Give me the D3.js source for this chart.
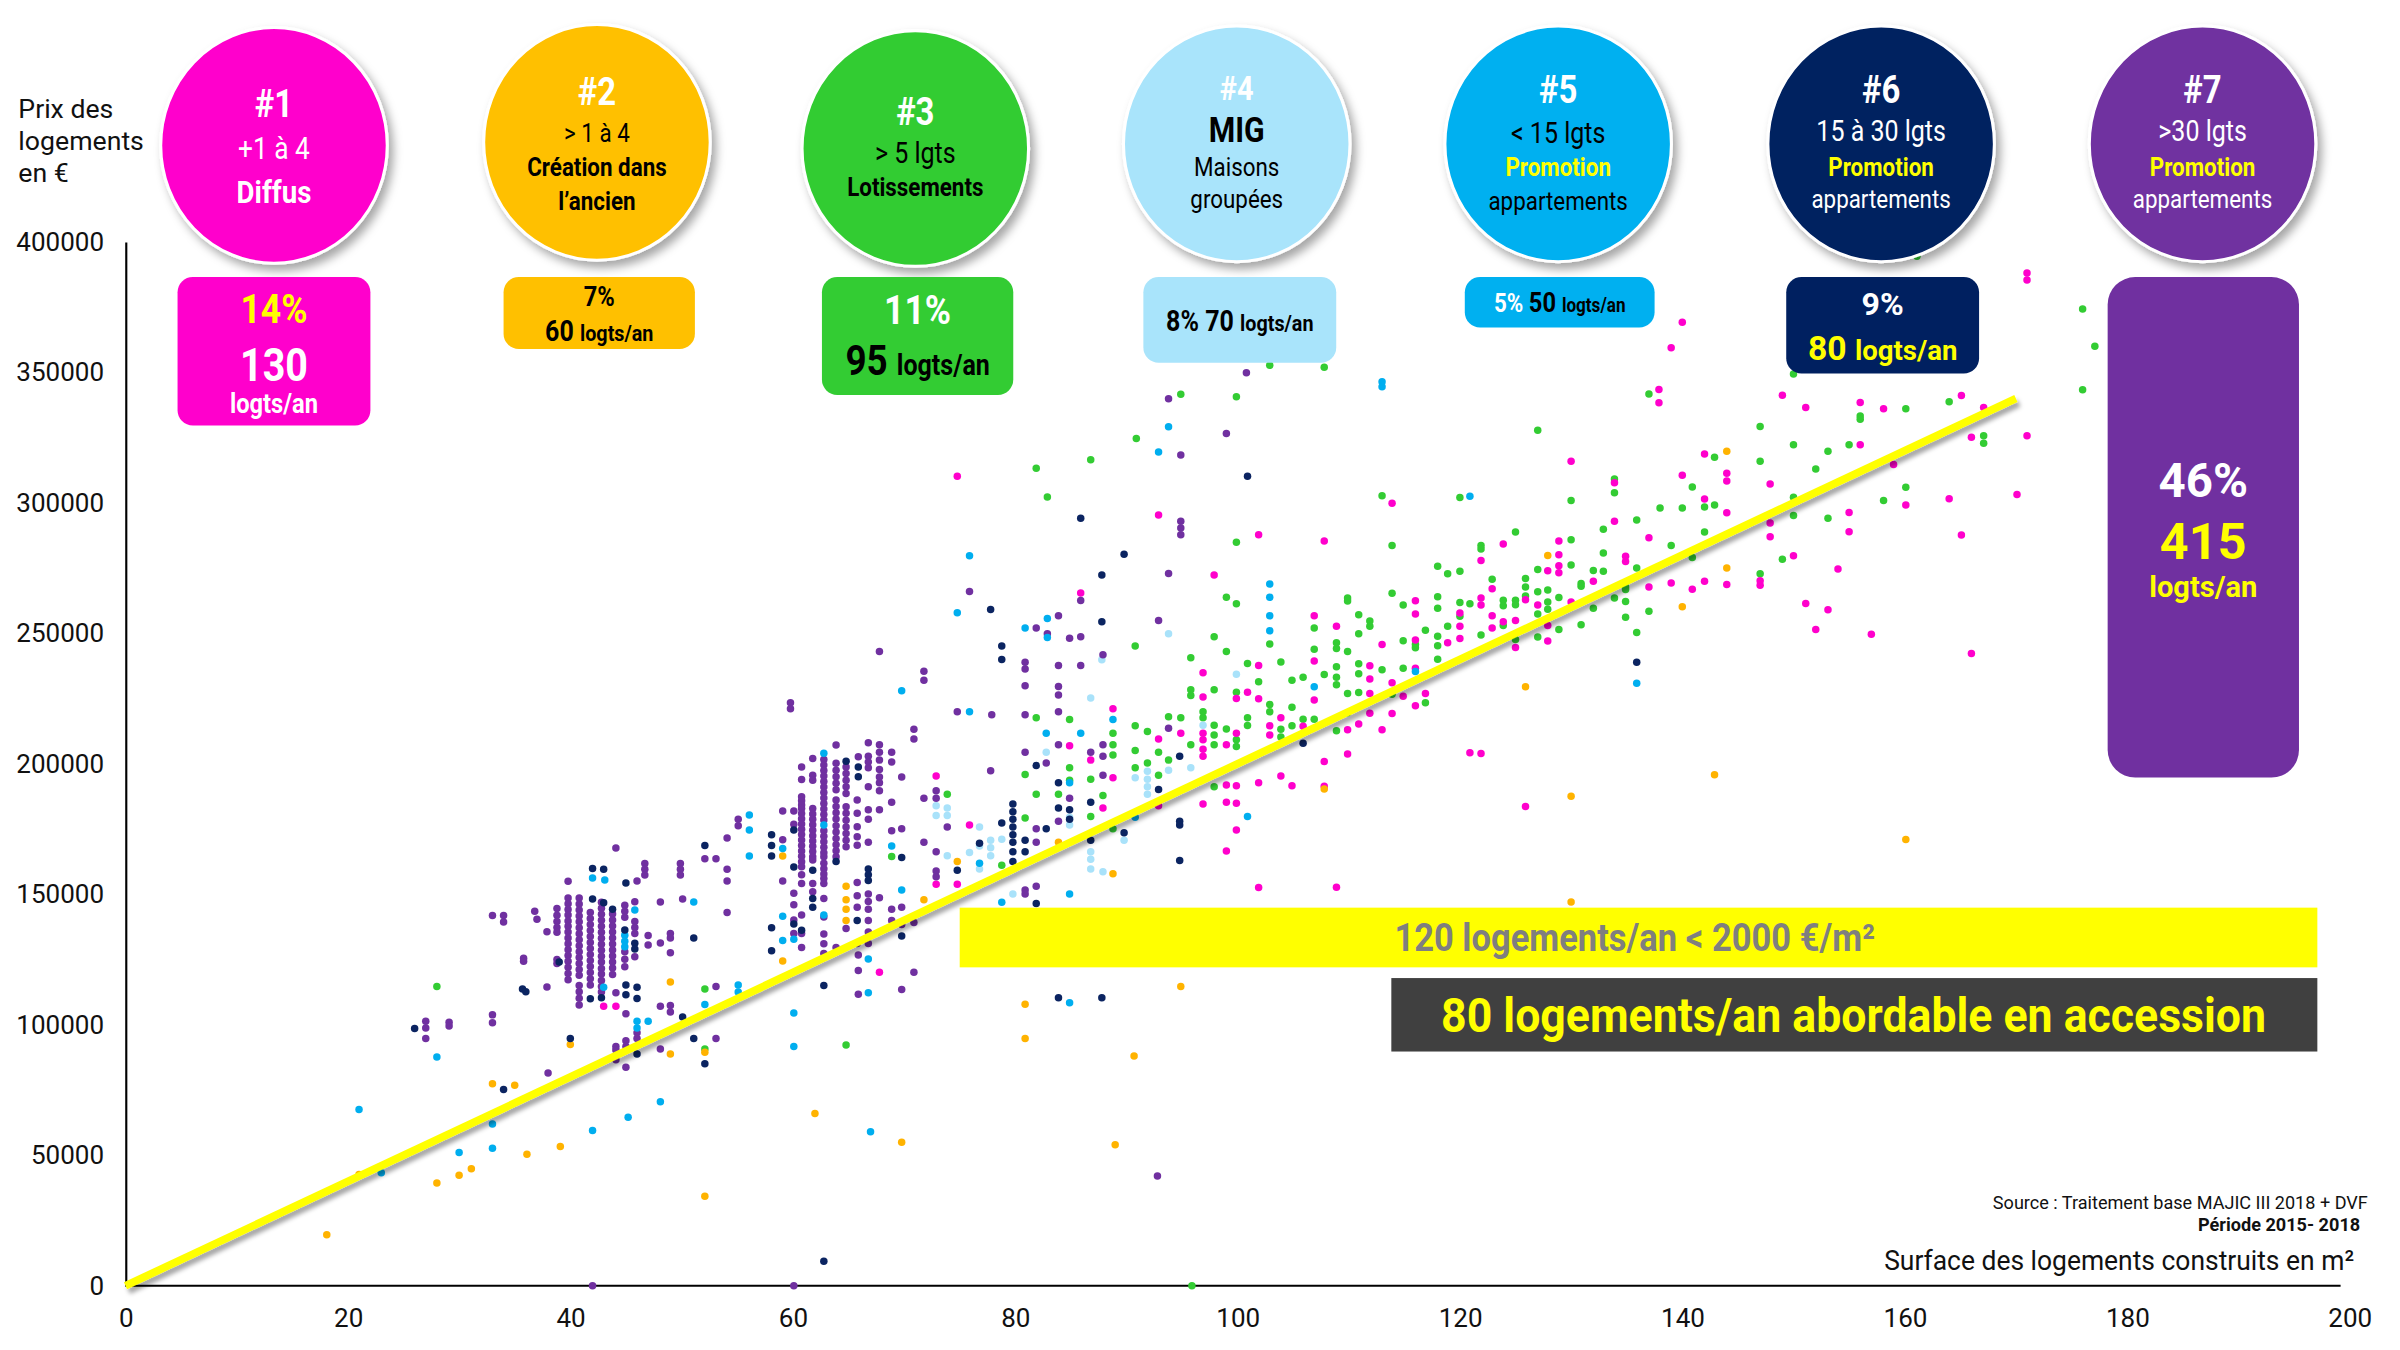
<!DOCTYPE html>
<meta charset="utf-8">

<head>
  <script src="https://d3js.org/d3.v7.min.js"></script>
  <style>
    html,
    body {
      margin: 0;
      padding: 0;
      background: #fff;
    }

    svg {
      display: block;
      font-family: Roboto, "Noto Sans", sans-serif;
    }
  </style>
</head>

<body>
  <svg id="chart"></svg>
</body>
<script>
  // axes
  const surfaceTicks = [0, 20, 40, 60, 80, 100, 120, 140, 160, 180, 200]
  const priceTicks = [0, 50000, 100000, 150000, 200000, 250000, 300000, 350000, 400000]

  // groups
  const groupIds = ['#1', '#2', '#3', '#4', '#5', '#6', '#7']
  const groupColors = ['#ff00cc', '#ffc000', '#33cc33', '#a9e4fb', '#00b0f0', '#002060', '#7030a0']
  const dotColors = ['#ff00cc', '#ffb300', '#33cc33', '#a9e2fa', '#00aeef', '#0b2461', '#7030a0']

  // points : [surface m², prix k€]
  const diffus = [
    [43, 107.1], [44.1, 107.1], [67.8, 120.1], [72.9, 195.3], [72.9, 153.8], [74.8, 153.8], [74.8, 310.2], [75.9, 176.5],
    [84.9, 206.9], [86.8, 201.4], [87.9, 183.1], [88.8, 194.6], [88.8, 221.1], [85.9, 265.4], [92.9, 295.3], [92.9, 209.5],
    [92.9, 183.9], [94.9, 211.7], [96.9, 211.7], [96.9, 209.2], [96.9, 205.6], [96.9, 202.9], [96.9, 234.9], [96.9, 225.6],
    [96.9, 184.6], [97.9, 272.3], [99, 207.3], [99, 191.9], [99, 185.3], [99, 166.6], [99.9, 225], [99.9, 211.7], [99.9, 191.6],
    [99.9, 184.9], [99.9, 174.6], [100.9, 227.4], [101.9, 287.8], [101.9, 237.7], [101.9, 224.9], [101.9, 192.7], [101.9, 152.6],
    [102.9, 214.6], [102.9, 211], [103.9, 217.6], [103.9, 195.3], [104.9, 191.6],
    [140, 369.2], [139, 359.4], [137.9, 343.4], [137.9, 338.3], [149, 341.2], [142, 318.7], [130, 315.9], [133.9, 307.7],
    [140, 310.6], [144, 311.3], [144, 308.4], [147.9, 307.2], [113.9, 299.8], [142, 301.5], [144, 296.2], [147.9, 292.3],
    [147.9, 287], [133.9, 292.9], [107.8, 285.4], [123.9, 284.2], [128.9, 285.4], [137, 286.6], [150, 279.7], [121.9, 277.9],
    [128.9, 280.1], [128.9, 275.9], [128.9, 273.2], [127.9, 274], [134.9, 279.5], [134.9, 277.5], [132, 269.9], [137, 267.7],
    [139, 269.3], [140.9, 266.9], [142, 269.9], [144, 268.7], [147, 270.1], [147, 268.4], [130, 262], [127, 260.8], [127.9, 253],
    [127.9, 247], [125.9, 262.9], [125, 254.9], [125, 244.6], [123.9, 254.4], [122.9, 267.1], [122.9, 256.7], [122.9, 252],
    [121.9, 263.5], [121.9, 260.8], [120, 257.8], [120, 252.7], [120, 248], [118.9, 246.4], [116.9, 226.9], [116, 262.5],
    [116, 257.4], [116, 247.4], [116, 236.6], [116, 222.2], [114.9, 225.9], [113.9, 231], [113.9, 219.3], [113, 245.7], [113, 213],
    [111.9, 237.6], [111.9, 232.5], [111.9, 226.9], [111.9, 219.4], [110.9, 215.2], [109.9, 213], [109.9, 203.7], [108.9, 252.7],
    [108.9, 152.7], [107.8, 200.9], [107.8, 191.4], [106.9, 256.7], [106.9, 239.4], [106.9, 224.4], [105.9, 214.4], [125.9, 183.6],
    [120.9, 204.2], [121.9, 203.9],
    [171, 388.1], [171, 385.4], [151.1, 336.5], [156, 338.4], [158.1, 336], [165.1, 341.1], [167.1, 336.5], [166, 325.1],
    [171, 325.7], [156, 322.2], [159, 314.7], [160.1, 299.2], [164, 301.6], [170.1, 303.2], [155, 296.3], [155, 288.9],
    [165.1, 287.7], [154, 274.6], [151.1, 261.4], [153.1, 259], [152, 251.5], [157, 249.6], [166, 242.3]
  ]

  const ancien = [
    [18.1, 19.5], [21, 42.6], [28, 39.4], [30, 42.3], [31.1, 44.8], [33, 77.4], [35, 76.8], [36.1, 50.4], [39.1, 53.3],
    [40, 92.4], [49, 116.4], [49, 88.8], [52.1, 34.3], [52.1, 89.5], [59.1, 164.7], [59.1, 124.4], [62, 66], [64.8, 153.1],
    [64.8, 147.9], [64.8, 144.3], [64.8, 139.9], [69.8, 55], [71.8, 147.9], [74.8, 162.6], [80.9, 107.9], [80.9, 94.7],
    [83.9, 169.9], [88.8, 157.9], [89, 54], [90.7, 88], [94.9, 114.7], [107.8, 190.3], [125.9, 229.5], [127.9, 279.8],
    [130, 187.6], [130, 147], [140, 260.2], [142.9, 195.8], [144, 275], [144, 319.8], [160.1, 171]
  ]

  const lotissements = [
    [28, 114.7], [52.1, 113.7], [52.1, 90.7], [64.8, 92.2], [68.9, 164.5], [73.9, 188.3], [78.8, 161.1], [80.9, 195.9], [80.9, 179.2],
    [81.9, 217.6], [81.9, 188.3], [81.9, 313.2], [82.9, 302.2], [83.9, 188.3], [84.9, 217], [84.9, 198.5], [84.9, 193.7], [86.8, 316.5],
    [86.8, 194.1], [86.8, 179.8], [87.9, 187.8], [88.8, 211.7], [88.8, 207.3], [88.8, 203.4], [88.8, 175.1], [90.8, 245.1], [90.8, 214.6],
    [90.8, 205.1], [90.8, 198.5], [90.9, 324.6], [91.9, 212.4], [91.9, 200.3], [92.9, 204.4], [92.9, 195.6], [93.8, 218], [93.8, 201.4],
    [94.9, 341.6], [94.9, 217.6], [95.8, 240.6], [95.8, 228.4], [95.8, 226.2], [95.8, 207.3], [95.9, 0], [96.9, 219.9], [96.9, 217.6],
    [97.9, 248.7], [97.9, 228.4], [97.9, 214.8], [97.9, 211], [97.9, 207.3], [97.9, 191.2], [99, 263.8], [99, 243], [99, 213.3],
    [99.9, 340.6], [99.9, 284.9], [99.9, 261.3], [99.9, 227.4], [99.9, 209.2], [99.9, 206.6], [100.9, 238.4], [100.9, 217.6],
    [100.9, 214.7], [101.9, 231.4], [102.9, 352.7], [102.9, 245.9], [102.9, 222.7], [102.9, 219.9], [103.9, 239], [103.9, 213.2],
    [103.9, 210.3], [104.9, 232], [104.9, 221.7], [104.9, 214.6],
    [107.8, 351.9], [137, 341.7], [127, 327.8], [147, 329.2], [150, 322.2], [147, 315.9], [142.9, 317.5], [133.9, 309.1], [140.9, 306.1],
    [133.9, 303.9], [113, 302.7], [120, 302], [130, 300.9], [138, 298], [140, 298], [142, 298.4], [142.9, 299.2], [150, 302.1],
    [150, 295.1], [135.9, 293.4], [132.9, 289.9], [125, 288.8], [121.9, 283.6], [121.9, 282.3], [113.9, 283.6], [130, 285.8],
    [139, 283.6], [142, 288.8], [140.9, 279], [149, 278.4], [118, 275.7], [118.9, 272.8], [120, 273.8], [127, 274.4], [130, 276.2],
    [132, 274.1], [132.9, 273.8], [132.9, 280.8], [135.9, 275], [130.9, 269.1], [130.9, 268], [133.9, 263.5], [134.9, 267.7],
    [134.9, 266.8], [134.9, 262.2], [147, 272.8], [137, 258.4], [134.9, 256.1], [135.9, 250.3], [132, 259.6], [130.9, 253.3],
    [128.9, 263.7], [127.9, 266.6], [127.9, 262], [127.9, 259.2], [127, 265.9], [127, 257.4], [127, 248.6], [128.9, 251.5],
    [125.9, 271], [125.9, 267.7], [125.9, 264.3], [125, 262.7], [125, 260.9], [125, 247.6], [123.9, 262.7], [123.9, 260.6],
    [123.9, 253], [122.9, 270.7], [121.9, 249.3], [120.9, 261.3], [120, 261.8], [120, 256.5], [118.9, 252.7], [118, 264],
    [118, 259.6], [118, 248.9], [118, 245.2], [118, 240.1], [116.9, 251.2], [116.9, 223.4], [116, 245.7], [116, 244.5],
    [114.9, 260.8], [114.9, 247.1], [114.9, 236.6], [113.9, 265.3], [113.9, 226.6], [113, 236], [111.9, 254.7], [111.9, 252.7],
    [110.9, 257.1], [110.9, 249.8], [110.9, 238.3], [110.9, 234.5], [110.9, 227.3], [109.9, 263.5], [109.9, 262.4], [109.9, 243],
    [109.9, 226.9], [109.9, 219.6], [108.9, 246.4], [108.9, 244.2], [108.9, 237.2], [108.9, 233.2], [108.9, 230.3], [108.9, 212.7],
    [107.8, 234.2], [106.9, 252], [106.9, 243.9], [106.9, 217.1], [105.9, 233.2], [105.9, 217.1], [150, 349.4],
    [161.1, 394.5], [176, 374.3], [177.1, 360], [176, 343.3], [156, 333.3], [156, 332], [160.1, 336], [164, 338.7], [167.1, 325.7],
    [167.1, 322.8], [153.1, 319.8], [155, 322.2], [152, 313], [160.1, 306], [158.1, 300.9], [153.1, 294.1]
  ]

  const mig = [
    [72.9, 183.9], [72.9, 180.2], [73.9, 183.1], [73.9, 180.2], [73.9, 164.8], [75.9, 166], [76.8, 175.8], [76.8, 168.5],
    [76.8, 159.7], [77.8, 170.7], [77.8, 167.8], [77.8, 164.8], [78.8, 171.1], [79.8, 150.1], [82.8, 204.4], [84.9, 179.5],
    [84.9, 176.5], [86.8, 225.2], [86.8, 166.3], [86.8, 163.4], [86.8, 159.7], [87.8, 239.9], [87.9, 158.6], [89.8, 170.7],
    [90.8, 194.6], [91.9, 197.1], [91.9, 194.1], [91.9, 191.2], [91.9, 188.3], [93.8, 249.8], [93.8, 197.5], [95.8, 198.5],
    [96.9, 214.8], [99.9, 234.3]
  ]

  const promo15 = [
    [21, 67.5], [23, 43.3], [28, 87.6], [30, 51], [33, 52.7], [33, 62], [42, 156.2], [42, 59.5], [43.1, 155.5], [43, 114.4],
    [44.9, 134.3], [44.9, 132], [44.9, 129.9], [45.8, 144], [45.2, 64.6], [46, 101.3], [46, 98.8], [47, 101.3], [48.1, 70.5],
    [51.1, 147], [52.1, 107.8], [55.1, 115.2], [55.1, 112.5], [56.1, 180.4], [56.1, 174.6], [56.1, 164.7], [59.1, 167.5],
    [59.1, 141.6], [59.1, 132.3], [60.1, 132.8], [60.1, 104.5], [60.1, 91.7], [62.8, 204], [62.8, 176.5], [62.8, 142.1],
    [66.8, 112.3], [66.8, 125.2], [67, 59], [68.9, 168.5], [69.8, 151.6], [69.8, 228], [74.8, 257.9], [75.9, 219.9],
    [75.9, 279.7], [76.8, 161.9], [78.8, 146.9], [80.9, 252], [82.8, 211.7], [82.9, 248.4], [82.9, 255.7], [84.9, 192.7],
    [84.9, 150.1], [84.9, 108.4], [85.9, 211.7], [88.8, 217], [90.8, 179.5], [92.9, 319.5], [93.8, 329.1], [100.9, 179.8],
    [102.9, 268.9], [102.9, 263.8], [102.9, 256.7], [102.9, 251], [106.9, 229.5], [113, 346.4], [113, 344.5], [116, 235.4],
    [120.9, 302.5], [135.9, 230.9]
  ]

  const promo30 = [
    [26, 98.6], [34, 75.2], [35.7, 113.7], [36, 112.6], [39, 124], [40, 94.7], [42, 159.9], [42, 148.2], [41.8, 110], [42.8, 110.3],
    [43, 159.6], [43, 146.7], [43.8, 144.3], [44.9, 136.3], [45, 154.3], [45, 115.2], [45, 111.5], [45.8, 131.2], [45.8, 129],
    [46, 114.4], [46, 110.1], [46, 88.8], [50.1, 103], [51.1, 133.2], [51.1, 94.7], [52.1, 168.7], [52.1, 85.1], [58.1, 172.8],
    [58.1, 168.7], [58.1, 164.7], [58.1, 137.2], [58.1, 128.4], [60.1, 174.6], [60.1, 160.4], [60.1, 138.6], [60.8, 136.2],
    [61.8, 159.2], [61.8, 148.4], [61.8, 145], [62.8, 115], [62.8, 9.4], [63.9, 162.6], [64.8, 201], [65.9, 198.8], [65.9, 195],
    [65.8, 139.9], [66.8, 159.7], [66.8, 157.5], [66.8, 155.3], [69.8, 164.1], [69.8, 134], [74.8, 159.2], [76.8, 169.5],
    [77.8, 259.1], [78.8, 245.1], [78.8, 240], [78.8, 177.3], [79.8, 184.6], [79.8, 181.6], [79.8, 178.7], [79.8, 175.8],
    [79.8, 172.8], [79.8, 169.9], [79.8, 166.3], [79.8, 162.6], [80.9, 170.7], [80.9, 166.3], [81.9, 199.3], [81.9, 146.5],
    [82.8, 175.1], [83.9, 192.7], [83.9, 183.1], [83.9, 110.3], [84.9, 182.4], [84.9, 178.7], [85.9, 294.1], [86.8, 185.3],
    [86.8, 170.7], [87.8, 272.3], [87.8, 254.4], [87.8, 110.3], [89.8, 280.3], [89.8, 173.6], [92.9, 190.1], [94.8, 202.9],
    [94.8, 178], [94.8, 176.5], [94.8, 162.9], [100.9, 310.2], [105.9, 207.9], [135.9, 238.9]
  ]

  const promo30plus = [
    [27, 101.3], [27, 98.8], [27, 94.7], [29.1, 101], [29.1, 99.5], [33, 103.8], [33, 100.8], [33, 141.9], [34, 141.9], [34, 139.4],
    [35.8, 125.5], [35.8, 124.3], [36.8, 143.5], [37, 140.4], [37.9, 135.6], [37.9, 114.5], [38, 81.5],
    [38.8, 144.5], [38.8, 142], [38.8, 139.6], [38.8, 137.3], [38.8, 135.4], [38.8, 125], [38.8, 123.5],
    [39.8, 155], [39.8, 148.6], [39.8, 146.4], [39.8, 144.2], [39.8, 142.1], [39.8, 139.8], [39.8, 137.7], [39.8, 135.5],
    [39.8, 133.2], [39.8, 131], [39.8, 128.7], [39.8, 126.5], [39.8, 124.3], [39.8, 122], [39.8, 119.6], [39.8, 117.2],
    [40.8, 148.6], [40.8, 146.3], [40.8, 144], [40.8, 141.7], [40.8, 139.5], [40.8, 137.2], [40.8, 134.9], [40.8, 132.6],
    [40.8, 130.3], [40.8, 128], [40.8, 125.8], [40.8, 123.5], [40.8, 121.2], [40.8, 119], [40.8, 115], [40.8, 112.6],
    [40.8, 110.2], [40.8, 107.6],
    [41.8, 143], [41.8, 140.7], [41.8, 138.4], [41.8, 136.1], [41.8, 133.8], [41.8, 131.5], [41.8, 129.2], [41.8, 126.9],
    [41.8, 124.6], [41.8, 122.3], [41.8, 120], [41.8, 117.6], [41.8, 115.2], [42, 0],
    [42.8, 146.9], [42.8, 144.6], [42.8, 142.3], [42.8, 140], [42.8, 137.7], [42.8, 135.4], [42.8, 133.1], [42.8, 130.8],
    [42.8, 128.5], [42.8, 126.2], [42.8, 124], [42.8, 121.6], [42.8, 119.4], [42.8, 117], [42.8, 114.7], [42.8, 112.5],
    [43.8, 142.4], [43.8, 140.1], [43.8, 137.8], [43.8, 135.5], [43.8, 133.2], [43.8, 130.9], [43.8, 128.6], [43.8, 126.3],
    [43.8, 124], [43.8, 121.7], [43.8, 119.3],
    [44.1, 167.7], [44.1, 112.3], [44.1, 91.7], [44.1, 90.3], [44.1, 86.6],
    [44.9, 145.8], [44.9, 143.5], [44.9, 141.2], [44.9, 128], [44.9, 125.1], [44.9, 122.2],
    [45, 104.2], [45, 93.9], [45, 91.7], [45, 83.7],
    [45.8, 147.1], [45.8, 139.6], [45.8, 137.3], [45.8, 135], [45.8, 126.1], [46, 155.1], [46, 96.9], [46, 94.7],
    [46.7, 161.8], [46.7, 159.6], [46.7, 157.4], [47, 134.2], [47, 130.6],
    [48.1, 147], [48.1, 131.3], [48.1, 107.1], [48.1, 90.7],
    [49, 135], [49, 133.2], [49, 127.6], [49, 107.4], [49, 104.9],
    [49.9, 161.8], [49.9, 159.6], [49.9, 157.4], [50.1, 148.2],
    [52.1, 163.6], [53.1, 163.6], [53.1, 114.7], [53.1, 94.7],
    [54.1, 171.6], [54.1, 159.6], [54.1, 155.1], [54.1, 143], [55.1, 178.7], [55.1, 176.3],
    [59.1, 181.9], [59.1, 170.9], [59.1, 155.1], [59.8, 223.4], [59.8, 221.1],
    [60.1, 181.9], [60.1, 176.8], [60.1, 150.4], [60.1, 146], [60.1, 140.1], [60.1, 135], [60.1, 0],
    [60.8, 198.8], [60.8, 194], [60.8, 187.4], [60.8, 185.8], [60.8, 184.2], [60.8, 182.9], [60.8, 180.9], [60.8, 178.9],
    [60.8, 176.9], [60.8, 174.9], [60.8, 172.9], [60.8, 170.8], [60.8, 168.7], [60.8, 166.6], [60.8, 164.6], [60.8, 162.5],
    [60.8, 160.5], [60.8, 157.5], [60.8, 154.1], [60.8, 142.1], [60.8, 135], [60.8, 129.6],
    [61.8, 202], [61.8, 195.6], [61.8, 193.7], [61.8, 182.9], [61.8, 180.8], [61.8, 178.7], [61.8, 176.6], [61.8, 174.5],
    [61.8, 172.4], [61.8, 170.4], [61.8, 168.4], [61.8, 166.4], [61.8, 164.4], [61.8, 163.1], [61.8, 154.1], [61.8, 151],
    [62.8, 201.6], [62.8, 199.5], [62.8, 197.4], [62.8, 195.3], [62.8, 193.2], [62.8, 191.1], [62.8, 189], [62.8, 186.9],
    [62.8, 184.8], [62.8, 182.7], [62.8, 180.6], [62.8, 178.5], [62.8, 174.3], [62.8, 172.2], [62.8, 170.1], [62.8, 168],
    [62.8, 165.9], [62.8, 164.4], [62.8, 161.9], [62.8, 159.8], [62.8, 157.8], [62.8, 156], [62.8, 154.1], [62.8, 148.4],
    [62.8, 141.3], [62.8, 134.8], [62.8, 131], [62.8, 127.3],
    [63.9, 207.2], [63.9, 200.2], [63.9, 197.5], [63.9, 195], [63.9, 192.5], [63.9, 190], [63.9, 186.1], [63.9, 183.6],
    [63.9, 181.2], [63.9, 178.8], [63.9, 176.3], [63.9, 173.9], [63.9, 171.4], [63.9, 169], [63.9, 166.7], [63.9, 164.4],
    [63.9, 129.6],
    [64.8, 198.8], [64.8, 196.3], [64.8, 193.7], [64.8, 191.2], [64.8, 188.6], [64.8, 183.5], [64.8, 181], [64.8, 178.4],
    [64.8, 175.8], [64.8, 173.3], [64.8, 170.7], [64.8, 168.2], [64.8, 136.9],
    [65.9, 202.7], [65.8, 186.1], [65.8, 181], [65.8, 175.9], [65.8, 172], [65.8, 168.8], [65.8, 154.5], [65.8, 149.4], [65.8, 145],
    [65.8, 131.1], [65.9, 126.7], [65.9, 120.8], [65.9, 111.7],
    [66.8, 208.1], [66.8, 202.9], [66.8, 200.7], [66.8, 198.5], [66.8, 191.2], [66.8, 182.4], [66.8, 178.7], [66.8, 169.9],
    [66.8, 150.1], [66.8, 147.2], [66.8, 144.3], [66.8, 139.9], [66.8, 135.5], [66.8, 131.1],
    [67.8, 243], [67.8, 207.3], [67.8, 204.4], [67.8, 201.4], [67.8, 197.8], [67.8, 194.9], [67.8, 192.7], [67.8, 189.7],
    [67.8, 182.4], [67.8, 148.7],
    [68.9, 204.4], [68.9, 200.7], [68.9, 185.3], [68.9, 174.3], [68.9, 144.3], [68.9, 139.9],
    [69.8, 194.9], [69.8, 175.1], [69.8, 145], [69.8, 138.4], [69.8, 113.5],
    [70.9, 213.2], [70.9, 209.5], [70.9, 139.2], [70.9, 120.1],
    [71.8, 235.5], [71.8, 232], [71.8, 186.8], [71.8, 169.9],
    [72.9, 189.7], [72.9, 186.8], [72.9, 166.3], [72.9, 158.9], [72.9, 156.7],
    [73.9, 175.8], [74.8, 219.9], [75.9, 266], [77.8, 197.3], [77.9, 218.8],
    [80.9, 238.9], [80.9, 236.3], [80.9, 229.9], [80.9, 218.8], [80.9, 204.4], [80.9, 151.6], [80.9, 150.1],
    [81.9, 252], [81.9, 175.1], [81.9, 169.9], [81.9, 153.1],
    [82.9, 249.8], [82.8, 200.3],
    [83.9, 256.7], [83.9, 237.7], [83.9, 229.6], [83.9, 226.4], [83.9, 219.9], [83.9, 207.3], [83.9, 178],
    [84.9, 248.1], [84.9, 186.8], [85.9, 262.6], [85.9, 248.7], [85.9, 237.7], [86.8, 204.4],
    [87.9, 241.8], [87.9, 207.3], [87.9, 202.9], [87.9, 195.6],
    [92.8, 42], [92.9, 254.9], [93.8, 272.9], [93.8, 213.6], [93.8, 339.9],
    [94.9, 318.3], [94.9, 292.9], [94.9, 290.3], [94.9, 287.8], [99, 326.6], [100.8, 349.8]
  ]

  // 2000 €/m² reference line
  const trend = [[0, 0], [170, 340]]

  const seriesByGroup = [diffus, ancien, lotissements, mig, promo15, promo30, promo30plus]
  const drawOrder = [2, 0, 1, 3, 6, 4, 5]

  // header texts
  const circleLines = [
    [['#1', 68, 25, 700, '#fff'], ['+1 à 4', 97, 20, 400, '#fff'], ['Diffus', 125, 21, 700, '#fff']],
    [['#2', 60, 25, 700, '#fff'], ['> 1 à 4', 87, 17, 400, '#000'], ['Création dans', 109, 17, 700, '#000'], ['l’ancien', 131, 17, 700, '#000']],
    [['#3', 73, 25, 700, '#fff'], ['> 5 lgts', 100, 19, 400, '#000'], ['Lotissements', 122, 17, 700, '#000']],
    [['#4', 58, 22, 700, '#fff'], ['MIG', 85, 23, 700, '#000'], ['Maisons', 109, 17, 400, '#000'], ['groupées', 130, 17, 400, '#000']],
    [['#5', 59, 25, 700, '#fff'], ['< 15 lgts', 87, 19, 400, '#000'], ['Promotion', 109, 17, 700, '#ffff00'], ['appartements', 131, 17, 400, '#000']],
    [['#6', 59, 25, 700, '#fff'], ['15 à 30 lgts', 86, 19, 400, '#fff'], ['Promotion', 109, 17, 700, '#ffff00'], ['appartements', 130, 17, 400, '#fff']],
    [['#7', 59, 25, 700, '#fff'], ['>30 lgts', 86, 19, 400, '#fff'], ['Promotion', 109, 17, 700, '#ffff00'], ['appartements', 130, 17, 400, '#fff']]
  ]
  const boxLines = [
    [[211, [['14%', 27, '#ffff00']]], [249, [['130', 30, '#fff']]], [270, [['logts/an', 18, '#fff']]]],
    [[200, [['7%', 18, '#000']]], [223, [['60 ', 19, '#000'], ['logts/an', 15, '#000']]]],
    [[212, [['11%', 27, '#fff']]], [245, [['95 ', 28, '#000'], ['logts/an', 19, '#000']]]],
    [[216, [['8% 70 ', 19, '#000'], ['logts/an', 15, '#000']]]],
    [[204, [['5% ', 17, '#fff'], ['50 ', 18, '#000'], ['logts/an', 13, '#000']]]],
    [[206, [['9%', 21, '#fff']]], [235, [['80 ', 22, '#ffff00'], ['logts/an', 18, '#ffff00']]]],
    [[325, [['46%', 31, '#fff']]], [365, [['415', 33, '#ffff00']]], [390, [['logts/an', 19, '#ffff00']]]]
  ]

  const W = 1568, H = 882
  const svg = d3.select('#chart')
    .attr('width', 2400)
    .attr('height', 1350)
    .attr('viewBox', `0 0 ${W} ${H}`)

  const x = d3.scaleLinear().domain([0, 200]).range([82, 1535])
  const y = d3.scaleLinear().domain([0, 400000]).range([840, 158])

  const defs = svg.append('defs')
  defs.append('filter').attr('id', 'shadow').attr('x', '-20%').attr('y', '-20%').attr('width', '150%').attr('height', '150%')
    .append('feDropShadow').attr('dx', 3).attr('dy', 4).attr('stdDeviation', 3)
    .attr('flood-color', '#000').attr('flood-opacity', 0.35)
  defs.append('filter').attr('id', 'lineShadow').attr('x', '-5%').attr('y', '-5%').attr('width', '110%').attr('height', '110%')
    .append('feDropShadow').attr('dx', 2).attr('dy', 3).attr('stdDeviation', 1.5)
    .attr('flood-color', '#000').attr('flood-opacity', 0.35)

  // axes
  svg.append('g')
    .attr('transform', `translate(${x(0)},0)`)
    .call(d3.axisLeft(y).tickValues(priceTicks).tickSize(0).tickPadding(14).tickFormat(d3.format('d')))
  const xAxis = svg.append('g')
    .attr('transform', `translate(0,${y(0)})`)
    .call(d3.axisBottom(x).tickValues(surfaceTicks).tickSize(0).tickPadding(15).tickFormat(d3.format('d')))
  xAxis.select('.domain').attr('d', `M${x(0)},0H${x(199.2)}`)
  svg.selectAll('.domain').attr('stroke', '#000').attr('stroke-width', 1.4)
  svg.selectAll('.tick text').style('font-size', '17px').style('font-family', 'Roboto, sans-serif').attr('fill', '#111')

  // dots
  const dots = svg.append('g')
  drawOrder.forEach(i => {
    dots.append('g').selectAll('circle')
      .data(seriesByGroup[i])
      .enter().append('circle')
      .attr('cx', d => x(d[0]))
      .attr('cy', d => y(d[1] * 1000))
      .attr('r', 2.45)
      .attr('fill', dotColors[i])
  })

  // reference line
  svg.append('line')
    .attr('x1', x(trend[0][0])).attr('y1', y(trend[0][1] * 1000))
    .attr('x2', x(trend[1][0])).attr('y2', y(trend[1][1] * 1000))
    .attr('stroke', '#ffff00').attr('stroke-width', 5)
    .attr('filter', 'url(#lineShadow)')

  function put(g, cx, cy, str, size, weight, fill, sx) {
    return g.append('text')
      .attr('transform', `translate(${cx},${cy}) scale(${sx},1)`)
      .attr('text-anchor', 'middle')
      .attr('dominant-baseline', 'central')
      .style('font-size', size + 'px')
      .style('font-weight', weight)
      .attr('fill', fill)
      .text(str)
  }

  function putRich(g, cx, base, segs, sx) {
    const t = g.append('text')
      .attr('transform', `translate(${cx},${base}) scale(${sx},1)`)
      .attr('text-anchor', 'middle')
      .style('font-weight', 700)
      .style('white-space', 'pre')
    segs.forEach(s => t.append('tspan').style('font-size', s[1] + 'px').attr('fill', s[2]).text(s[0]))
  }

  // summary bars
  const bars = svg.append('g')
  bars.append('rect').attr('x', 627).attr('y', 593).attr('width', 887).attr('height', 39).attr('fill', '#ffff00')
  bars.append('text').attr('x', 1068).attr('y', 621).attr('text-anchor', 'middle')
    .attr('textLength', 314).attr('lengthAdjust', 'spacingAndGlyphs')
    .style('font-size', '25px').style('font-weight', 700).attr('fill', '#7f7f7f')
    .text('120 logements/an < 2000 €/m²')
  bars.append('rect').attr('x', 909).attr('y', 639).attr('width', 605).attr('height', 48).attr('fill', '#404040')
  bars.append('text').attr('x', 1211).attr('y', 674).attr('text-anchor', 'middle')
    .attr('textLength', 539).attr('lengthAdjust', 'spacingAndGlyphs')
    .style('font-size', '31px').style('font-weight', 700).attr('fill', '#ffff00')
    .text('80 logements/an abordable en accession')

  // header circles and boxes
  const head = svg.append('g')
  const centers = [179, 390, 598, 808, 1018, 1229, 1439]
  const circleY = [95, 93, 97, 94, 94, 94, 94]
  const boxes = [[116, 126, 97], [329, 125, 47], [537, 125, 77], [747, 126, 56], [957, 124, 33], [1167, 126, 63], [1377, 125, 327]]
  groupIds.forEach((id, i) => {
    head.append('ellipse')
      .attr('cx', centers[i]).attr('cy', circleY[i]).attr('rx', 74).attr('ry', 77)
      .attr('fill', groupColors[i]).attr('stroke', '#fff').attr('stroke-width', 2)
      .attr('filter', 'url(#shadow)')
    circleLines[i].forEach(l => put(head, centers[i], l[1], l[0], l[2], l[3], l[4], 0.86))
    const b = boxes[i]
    head.append('rect')
      .attr('x', b[0]).attr('y', 181).attr('width', b[1]).attr('height', b[2])
      .attr('rx', i === 6 ? 18 : 10)
      .attr('fill', groupColors[i])
    boxLines[i].forEach(l => putRich(head, b[0] + b[1] / 2, l[0], l[1], i >= 5 ? 1 : 0.86))
  })

  // titles and notes
  const notes = svg.append('g').attr('fill', '#111')
  ;[['Prix des', 77, 62], ['logements', 98, 82], ['en €', 119, 33]].forEach(t => {
    notes.append('text').attr('x', 12).attr('y', t[1])
      .attr('textLength', t[2]).attr('lengthAdjust', 'spacingAndGlyphs')
      .style('font-size', '17px').text(t[0])
  })
  notes.append('text').attr('x', 1547).attr('y', 790).attr('text-anchor', 'end')
    .attr('textLength', 245).attr('lengthAdjust', 'spacingAndGlyphs')
    .style('font-size', '11.5px').text('Source : Traitement base MAJIC III 2018 + DVF')
  notes.append('text').attr('x', 1542).attr('y', 804).attr('text-anchor', 'end')
    .attr('textLength', 106).attr('lengthAdjust', 'spacingAndGlyphs')
    .style('font-size', '11.5px').style('font-weight', 700).text('Période 2015- 2018')
  notes.append('text').attr('x', 1538).attr('y', 830).attr('text-anchor', 'end')
    .attr('textLength', 307).attr('lengthAdjust', 'spacingAndGlyphs')
    .style('font-size', '18px').text('Surface des logements construits en m²')
</script>
